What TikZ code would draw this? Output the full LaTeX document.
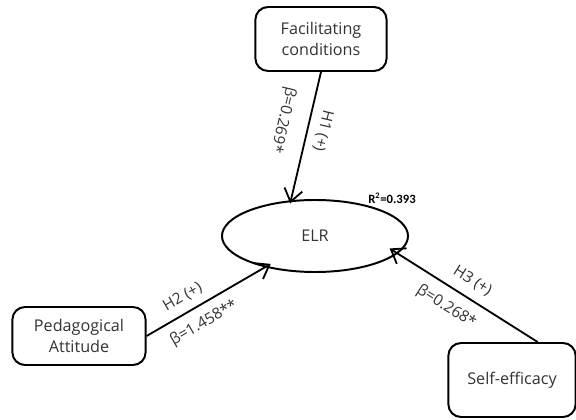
\documentclass[tikz,border=0pt]{standalone}
\usepackage{fontspec}
\setmainfont{Open Sans}
\newfontfamily\calibri{Carlito}
\usepackage{xcolor}
\definecolor{inkgray}{HTML}{333333}
\usepackage{tikz}
\usetikzlibrary{arrows.meta, shapes.geometric}

\begin{document}
\begin{tikzpicture}[x=0.025cm, y=-0.025cm,
  construct/.style={draw, line width=1.4pt, rounded corners=9pt, text=inkgray, align=center, font=\fontsize{11.5}{15}\selectfont},
  outcome/.style={draw, ellipse, line width=1.4pt, inner sep=0pt, minimum width=4.65cm, minimum height=1.8cm, text=inkgray, font=\fontsize{11.5}{13}\selectfont},
  hyp/.style={line width=1.3pt, -{Straight Barb[length=9pt, width=13pt]}},
  coef/.style={text=inkgray, font=\fontsize{11}{12}\selectfont, inner sep=1pt, sloped}]
  \useasboundingbox (0,0) rectangle (576,419);
  \node[construct, minimum width=3.28cm, minimum height=1.6cm]  (fc)  at (321,39)  {Facilitating\\conditions};
  \node[construct, minimum width=3.33cm, minimum height=1.45cm] (pa)  at (79,336)  {Pedagogical\\Attitude};
  \node[construct, minimum width=3.18cm, minimum height=1.85cm] (se)  at (512,380) {Self-efficacy};
  \node[outcome] (elr) at (315,236) {ELR};
  \node[font=\calibri\bfseries\fontsize{9}{10}\selectfont] (rsq) at (392,198) {R\textsuperscript{2}=0.393};
  \draw[hyp, shorten >=-2.3pt] (fc.south) --
    node[coef, pos=0.43, allow upside down, above=4.5pt] {H1 (+)}
    node[coef, pos=0.42, allow upside down, below=11.5pt] {β=0.269*} (elr.124);
  \draw[hyp, shorten >=-4.8pt] (pa.east) --
    node[coef, pos=0.37, above=4.5pt] {H2 (+)}
    node[coef, pos=0.41, below=5.5pt] {β=1.458**} (elr.212);
  \draw[hyp, shorten >=-6.8pt] (se.56) --
    node[coef, pos=0.53, above=5.5pt] {H3 (+)}
    node[coef, pos=0.58, below=6.5pt] {β=0.268*} (elr.-12);
\end{tikzpicture}
\end{document}
